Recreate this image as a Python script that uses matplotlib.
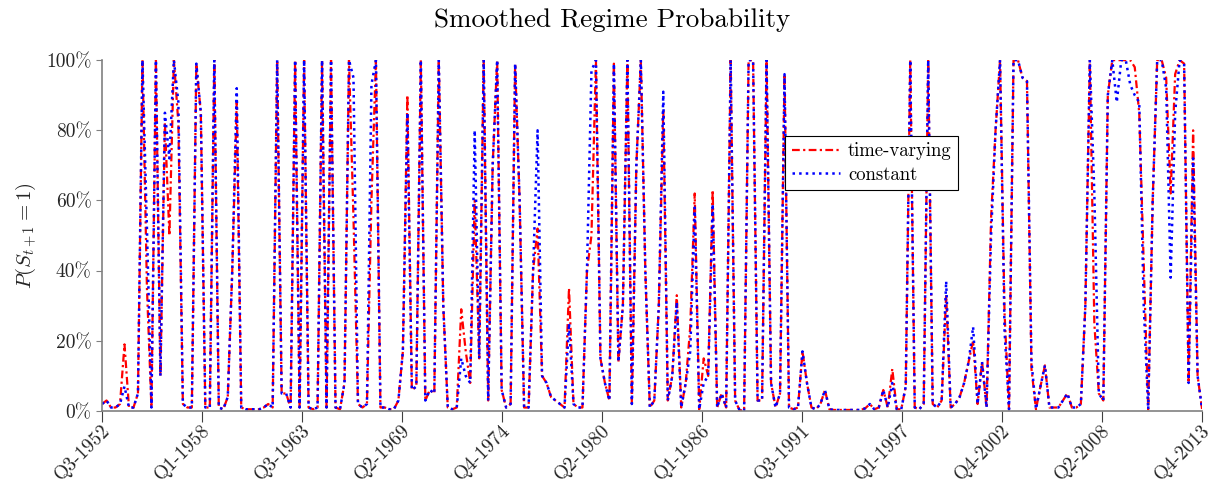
import numpy as np
import matplotlib
matplotlib.use('Agg')
import matplotlib.pyplot as plt
import matplotlib.transforms as mtransforms

plt.rcParams['font.family'] = 'serif'
plt.rcParams['font.serif'] = ['cmr10']
plt.rcParams['mathtext.fontset'] = 'cm'
plt.rcParams['axes.formatter.use_mathtext'] = True

# smoothed probabilities (percent), one value per quarter, Q3-1952 .. Q4-2013
time_varying = [
    2, 3, 1, 1, 2, 19, 1, 1, 5, 100, 35, 1, 100, 10, 82, 50, 100, 82, 2, 1,
    1, 99, 85, 1, 1, 100, 1, 0.5, 4, 40, 88, 1, 0.5, 0.5, 0.5, 0.5, 1, 2, 1, 100,
    5, 5, 1, 100, 1, 100, 1, 0.5, 1, 100, 1, 100, 1, 0.5, 8, 100, 55, 2, 1, 2,
    60, 100, 1, 1, 0.5, 0.5, 3, 17, 90, 6, 7, 100, 3, 6, 5, 100, 30, 1, 0.5, 1,
    29, 17, 8, 60, 15, 100, 3, 70, 100, 6, 1, 2, 99, 60, 1, 1, 40, 52, 10, 8,
    4, 3, 2, 1, 35, 2, 1, 1, 40, 50, 100, 15, 8, 3, 99, 14, 30, 100, 2, 70,
    100, 40, 1, 3, 30, 86, 3, 10, 33, 1, 8, 24, 62, 0.5, 15, 10, 63, 1, 5, 1,
    100, 3, 0.2, 0.2, 100, 100, 3, 3, 100, 8, 1, 5, 96, 1, 0.5, 1, 17, 8, 1, 0.5,
    2, 6, 0.5, 0.3, 0.3, 0.3, 0.3, 0.3, 0.3, 0.3, 0.8, 2, 0.5, 1, 6, 1, 12, 0.5, 0.5, 7,
    100, 1, 0.5, 2, 100, 2, 1, 3, 33, 1, 2, 4, 8, 14, 20, 2, 14, 1, 55, 80,
    100, 28, 0.5, 100, 100, 95, 94, 12, 0.5, 7, 13, 1, 1, 1, 3, 5, 1, 1, 2, 30,
    100, 25, 5, 3, 90, 100, 100, 100, 100, 100, 98, 85, 42, 0.5, 60, 100, 100, 95, 62, 96,
    100, 99, 8, 80, 10, 0.5,
]

constant = [
    2, 3, 1, 1, 2, 7, 1, 1, 5, 100, 52, 1, 100, 10, 85, 72, 100, 88, 2, 1,
    1, 99, 85, 1, 1, 100, 1, 0.5, 4, 40, 92, 1, 0.5, 0.5, 0.5, 0.5, 1, 2, 1, 100,
    5, 5, 1, 100, 1, 100, 1, 0.5, 1, 100, 1, 100, 1, 0.5, 8, 100, 95, 2, 1, 2,
    93, 100, 1, 1, 0.5, 0.5, 3, 17, 85, 6, 7, 100, 3, 6, 5, 100, 30, 1, 0.5, 1,
    15, 10, 8, 80, 15, 100, 3, 70, 100, 6, 1, 2, 99, 60, 1, 1, 40, 80, 10, 8,
    4, 3, 2, 1, 25, 2, 1, 1, 40, 97, 100, 15, 8, 3, 99, 14, 30, 100, 2, 70,
    100, 40, 1, 3, 30, 91, 3, 10, 31, 1, 8, 17, 58, 0.5, 8, 10, 59, 1, 5, 1,
    100, 3, 0.2, 0.2, 100, 100, 3, 3, 100, 8, 1, 5, 96, 1, 0.5, 1, 17, 8, 1, 0.5,
    2, 6, 0.5, 0.3, 0.3, 0.3, 0.3, 0.3, 0.3, 0.3, 0.8, 2, 0.5, 1, 6, 1, 8, 0.5, 0.5, 7,
    100, 1, 0.5, 2, 100, 2, 1, 3, 37, 1, 2, 4, 8, 14, 24, 2, 14, 1, 50, 80,
    100, 23, 0.5, 100, 100, 95, 94, 14, 0.5, 7, 13, 1, 1, 1, 3, 5, 1, 1, 2, 30,
    100, 62, 5, 3, 90, 100, 88, 100, 100, 93, 90, 88, 30, 0.5, 60, 100, 100, 92, 38, 85,
    100, 99, 8, 72, 10, 0.5,
]

tick_labels = ['Q3-1952', 'Q1-1958', 'Q3-1963', 'Q2-1969', 'Q4-1974', 'Q2-1980',
               'Q1-1986', 'Q3-1991', 'Q1-1997', 'Q4-2002', 'Q2-2008', 'Q4-2013']

t = np.arange(len(time_varying))
tick_pos = np.linspace(0, len(t) - 1, len(tick_labels))

fig = plt.figure(figsize=(12.25, 4.97), dpi=100)
ax = fig.add_axes([0.0833, 0.173, 0.898, 0.706])

ax.plot(t, time_varying, color='red', linestyle=(0, (3.5, 1.5, 1, 1.5)), lw=1.6,
        label='time-varying')
ax.plot(t, constant, color='blue', linestyle=':', lw=1.8, label='constant')

ax.set_xlim(0, len(t) - 1)
ax.set_ylim(0, 100)
ax.set_xticks(tick_pos)
ax.set_xticklabels([])
# rotated labels placed by hand so they sit like the original
lab_tr = ax.get_xaxis_transform() + mtransforms.ScaledTranslation(
    4 / 72, -12 / 72, fig.dpi_scale_trans)
for p, lab in zip(tick_pos, tick_labels):
    ax.text(p, 0, lab, transform=lab_tr, rotation=45, ha='right', va='center',
            rotation_mode='anchor', fontsize=14, color='#262626', clip_on=False)
ax.set_yticks([0, 20, 40, 60, 80, 100])
ax.set_yticklabels(['0%', '20%', '40%', '60%', '80%', '100%'])

for s in ['top', 'right']:
    ax.spines[s].set_visible(False)
for s in ['left', 'bottom']:
    ax.spines[s].set_color('#808080')
    ax.spines[s].set_linewidth(1.2)
ax.tick_params(axis='x', direction='out', length=8, color='#404040')
ax.tick_params(axis='y', direction='out', length=4, color='#808080', labelsize=14,
               labelcolor='#262626')

ax.set_ylabel(r'$P(S_{t+1}=1)$', fontsize=15, color='#262626', labelpad=6)
fig.text(0.5, 0.96, 'Smoothed Regime Probability', fontsize=19.5,
         ha='center', va='center')

leg = ax.legend(loc='upper left', bbox_to_anchor=(0.621, 0.785), fontsize=13.5,
                fancybox=False, edgecolor='black', framealpha=1,
                handlelength=2.6, borderpad=0.35, labelspacing=0.3,
                handletextpad=0.4, borderaxespad=0)
leg.get_frame().set_linewidth(0.8)

fig.savefig('out.png', dpi=100)
